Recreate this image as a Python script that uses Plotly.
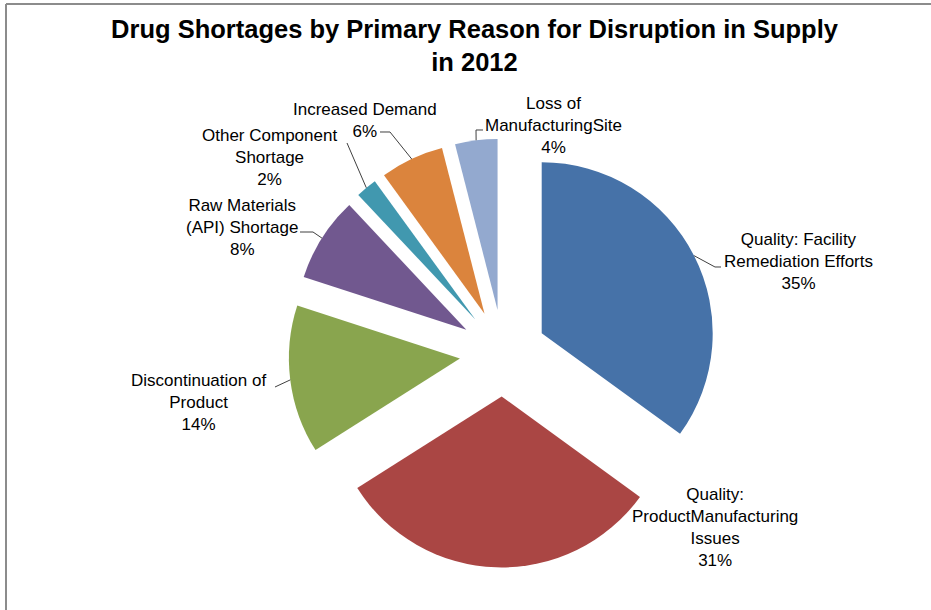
import math
import plotly.graph_objects as go

# ---- data ----
categories = [
    "Quality: Facility<br>Remediation Efforts",
    "Quality:<br>ProductManufacturing<br>Issues",
    "Discontinuation of<br>Product",
    "Raw Materials<br>(API) Shortage",
    "Other Component<br>Shortage",
    "Increased Demand",
    "Loss of<br>ManufacturingSite",
]
values = [35, 31, 14, 8, 2, 6, 4]
colors = ["#4672A8", "#AA4644", "#89A54E", "#71588F", "#4198AF", "#DB843D", "#93A9CF"]

# ---- layout constants (pixels) ----
W, H = 931, 610
CX, CY = 503, 353          # pie centre
R = 171                    # slice radius
PULL = 0.254               # explode fraction
HALF = R * (1 + PULL)

label_pos = [(798, 261), (715, 527), (198, 402), (242, 227), (269, 157), (365, 121), (553, 125)]
leader_tail = [
    [(715, 267), (721, 267)],
    None,
    [(275, 387)],
    [(313, 232), (300, 232)],
    [(347, 143)],
    [(390, 132), (380, 132)],
    [(476, 130), (483, 130)],
]


def px(x, y):
    return x / W, 1 - y / H


fig = go.Figure(go.Pie(
    labels=categories,
    values=values,
    marker=dict(colors=colors, line=dict(width=0)),
    sort=False,
    direction="clockwise",
    rotation=0,
    pull=[PULL] * len(values),
    textinfo="none",
    hoverinfo="label+percent",
    showlegend=False,
    domain=dict(x=[(CX - HALF) / W, (CX + HALF) / W],
                y=[1 - (CY + HALF) / H, 1 - (CY - HALF) / H]),
))

total = sum(values)
annotations = []
shapes = []
cum = 0
for i, (cat, v) in enumerate(zip(categories, values)):
    mid = (cum + v / 2) / total * 2 * math.pi
    cum += v
    lx, ly = label_pos[i]
    ax, ay = px(lx, ly)
    annotations.append(dict(
        x=ax, y=ay, xref="paper", yref="paper", xanchor="center", yanchor="middle",
        text=f"{cat}<br>{round(v / total * 100)}%", showarrow=False, align="center",
        font=dict(family="Liberation Sans, Arial, sans-serif", size=17, color="#000000"),
    ))
    if leader_tail[i]:
        sx = CX + R * (1 + PULL) * math.sin(mid)
        sy = CY - R * (1 + PULL) * math.cos(mid)
        pts = [(sx, sy)] + leader_tail[i]
        path = "M " + " L ".join(f"{px(x, y)[0]:.5f},{px(x, y)[1]:.5f}" for x, y in pts)
        shapes.append(dict(type="path", path=path, xref="paper", yref="paper",
                           line=dict(color="#404040", width=1)))

# chart frame (top and left edges)
shapes.append(dict(type="line", xref="paper", yref="paper", x0=px(6, 4)[0], y0=px(6, 4)[1],
                   x1=1, y1=px(6, 4)[1], line=dict(color="#8C8C8C", width=2)))
shapes.append(dict(type="line", xref="paper", yref="paper", x0=px(6, 4)[0], y0=px(6, 4)[1],
                   x1=px(6, 4)[0], y1=0, line=dict(color="#8C8C8C", width=2)))

fig.update_layout(
    width=W, height=H,
    margin=dict(l=0, r=0, t=0, b=0),
    paper_bgcolor="white", plot_bgcolor="white",
    title=dict(
        text="<b>Drug Shortages by Primary Reason for Disruption in Supply<br>in 2012</b>",
        x=474.5 / W, xanchor="center", xref="paper",
        y=1 - 38 / H, yanchor="top", yref="container",
        font=dict(family="Liberation Sans, Arial, sans-serif", size=25.5, color="#000000"),
    ),
    annotations=annotations,
    shapes=shapes,
)

fig.write_html("out.html", config={"displayModeBar": False},
               post_script="document.body.style.margin='0';document.body.style.overflow='hidden';")
